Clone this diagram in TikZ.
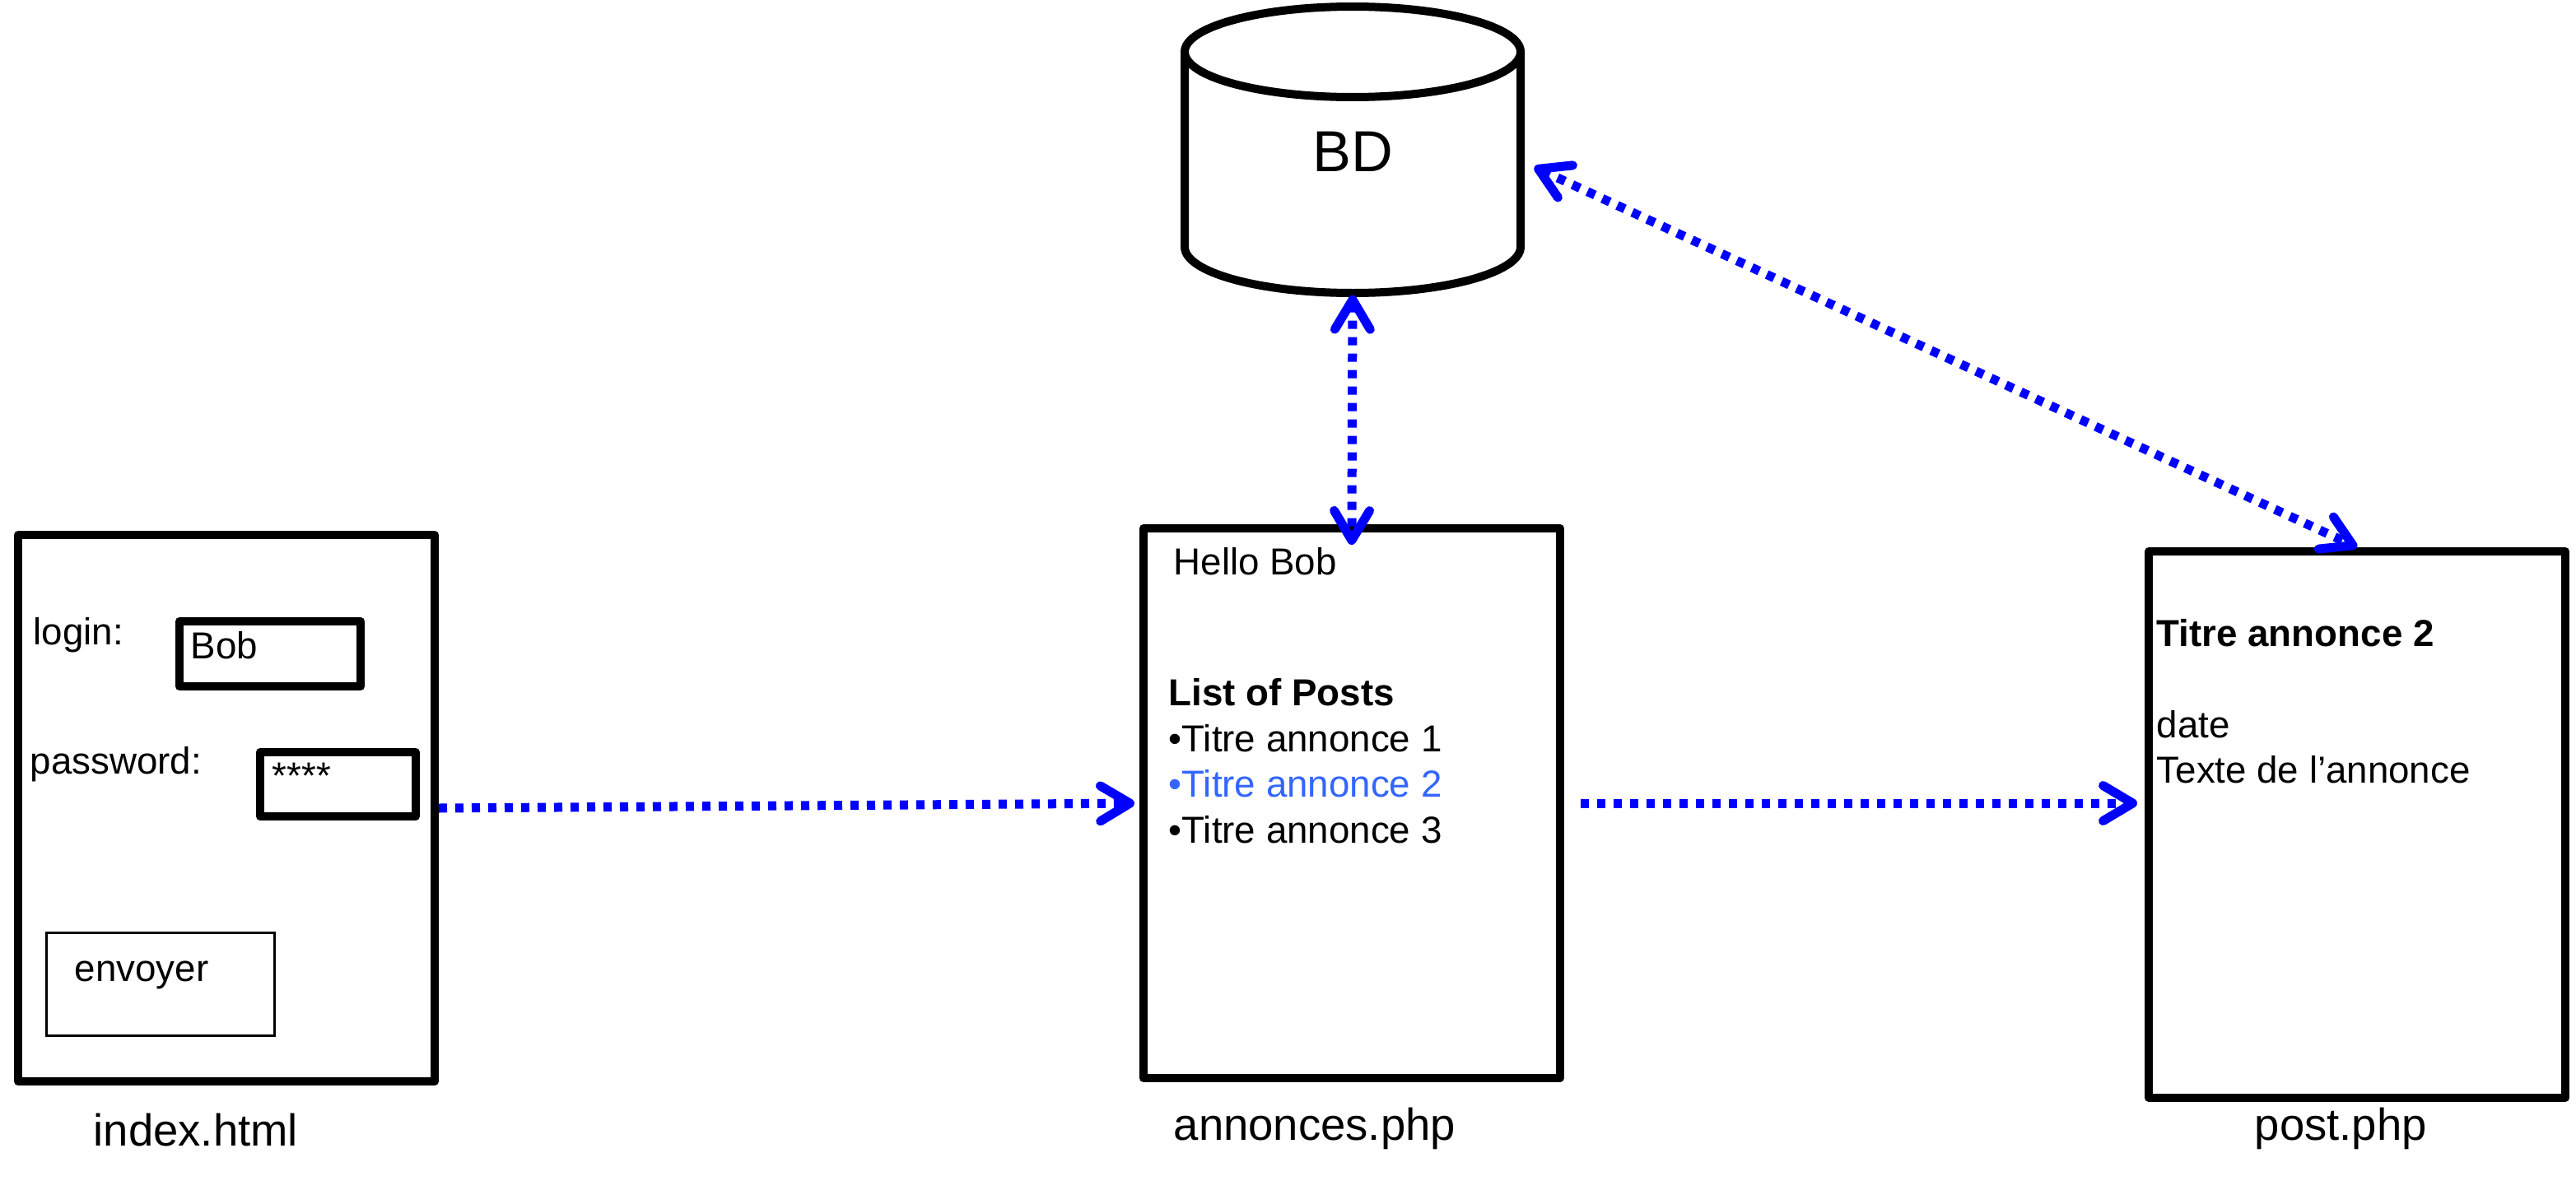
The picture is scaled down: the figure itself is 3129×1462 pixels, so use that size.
\documentclass[tikz,border=0pt]{standalone}
\usepackage{fontspec}
\setmainfont{Liberation Sans}
\usetikzlibrary{arrows.meta}
\definecolor{linkblue}{RGB}{0,0,255}
\definecolor{selblue}{RGB}{51,102,255}
\begin{document}
\begin{tikzpicture}[x=0.1mm,y=-0.1mm,
  >={Straight Barb[length=3.6mm,width=4.3mm,round]},
  page/.style={draw, line width=1mm, line join=round, inner sep=0},
  field/.style={draw, line width=1mm, line join=round, inner sep=0},
  button/.style={draw, line width=0.3mm, inner sep=0},
  txt/.style={anchor=base west, inner sep=0, font=\fontsize{13}{15.8}\selectfont},
  boldtxt/.style={txt, font=\fontsize{13}{15.8}\selectfont\bfseries},
  lbl/.style={anchor=base west, inner sep=0, font=\fontsize{15.5}{18}\selectfont},
  link/.style={draw=linkblue, line width=1.1mm, dash pattern=on 1mm off 1mm}
]
\useasboundingbox (0,0) rectangle (3129,1462);

% ---------- index.html ----------
\node[page, minimum width=50.6mm, minimum height=66.4mm] (index) at (275,982) {};
\node[field, minimum width=22mm, minimum height=7.9mm] (login) at (328,794.5) {};
\node[field, minimum width=18.9mm, minimum height=7.8mm] (pass) at (410.5,953) {};
\node[button, minimum width=27.7mm, minimum height=12.5mm] (send) at (194.5,1195.5) {};
\node[txt] (tlogin) at (40,783) {login:};
\node[txt] (tbob) at (231,800) {Bob};
\node[txt] (tpass) at (36,940) {password:};
\node[txt] (tstars) at (330,958) {****};
\node[txt] (tsend) at (90,1192) {envoyer};
\node[lbl] (lindex) at (113,1392) {index.html};

% ---------- annonces.php ----------
\node[page, minimum width=50.6mm, minimum height=66.8mm] (ann) at (1642,976) {};
\node[txt] (thello) at (1425,698) {Hello Bob};
\node[boldtxt] (tlist) at (1419,857) {List of Posts};
\node[txt] (tt1) at (1419,913) {•Titre annonce 1};
\node[txt, text=selblue] (tt2) at (1419,968) {•Titre annonce 2};
\node[txt] (tt3) at (1419,1024) {•Titre annonce 3};
\node[lbl] (lann) at (1425,1385) {annonces.php};

% ---------- post.php ----------
\node[page, minimum width=50.6mm, minimum height=66.4mm] (post) at (2863,1002) {};
\node[boldtxt] (ptitle) at (2619,785) {Titre annonce 2};
\node[txt] (pdate) at (2619,896) {date};
\node[txt] (ptext) at (2619,951) {Texte de l’annonce};
\node[lbl] (lpost) at (2738,1385) {post.php};

% ---------- BD ----------
\node[inner sep=0, minimum width=40.8mm, minimum height=34.8mm,
      font=\fontsize{20}{24}\selectfont] (bd) at (1643,184) {BD};
\draw[line width=1mm] (1643,63) ellipse [x radius=20.4mm, y radius=5.5mm];
\draw[line width=1mm, line join=round] (1439,63) -- (1439,300)
  arc[start angle=180, end angle=360, x radius=20.4mm, y radius=5.6mm] -- (1847,63);
\coordinate (bdtip) at ([shift={(16,19)}]bd.east);

% ---------- connectors ----------
\draw[link,->, shorten >=0.6mm] (index.east) -- (ann.west);
\draw[link,->, shorten <=2mm, shorten >=0.9mm] (ann.east) -- (ann.east -| post.west);
\draw[link,<->, shorten >=-2.5mm] (bd.south) -- (ann.north);
\draw[link,<->] (bdtip) -- (post.north);
\end{tikzpicture}
\end{document}
